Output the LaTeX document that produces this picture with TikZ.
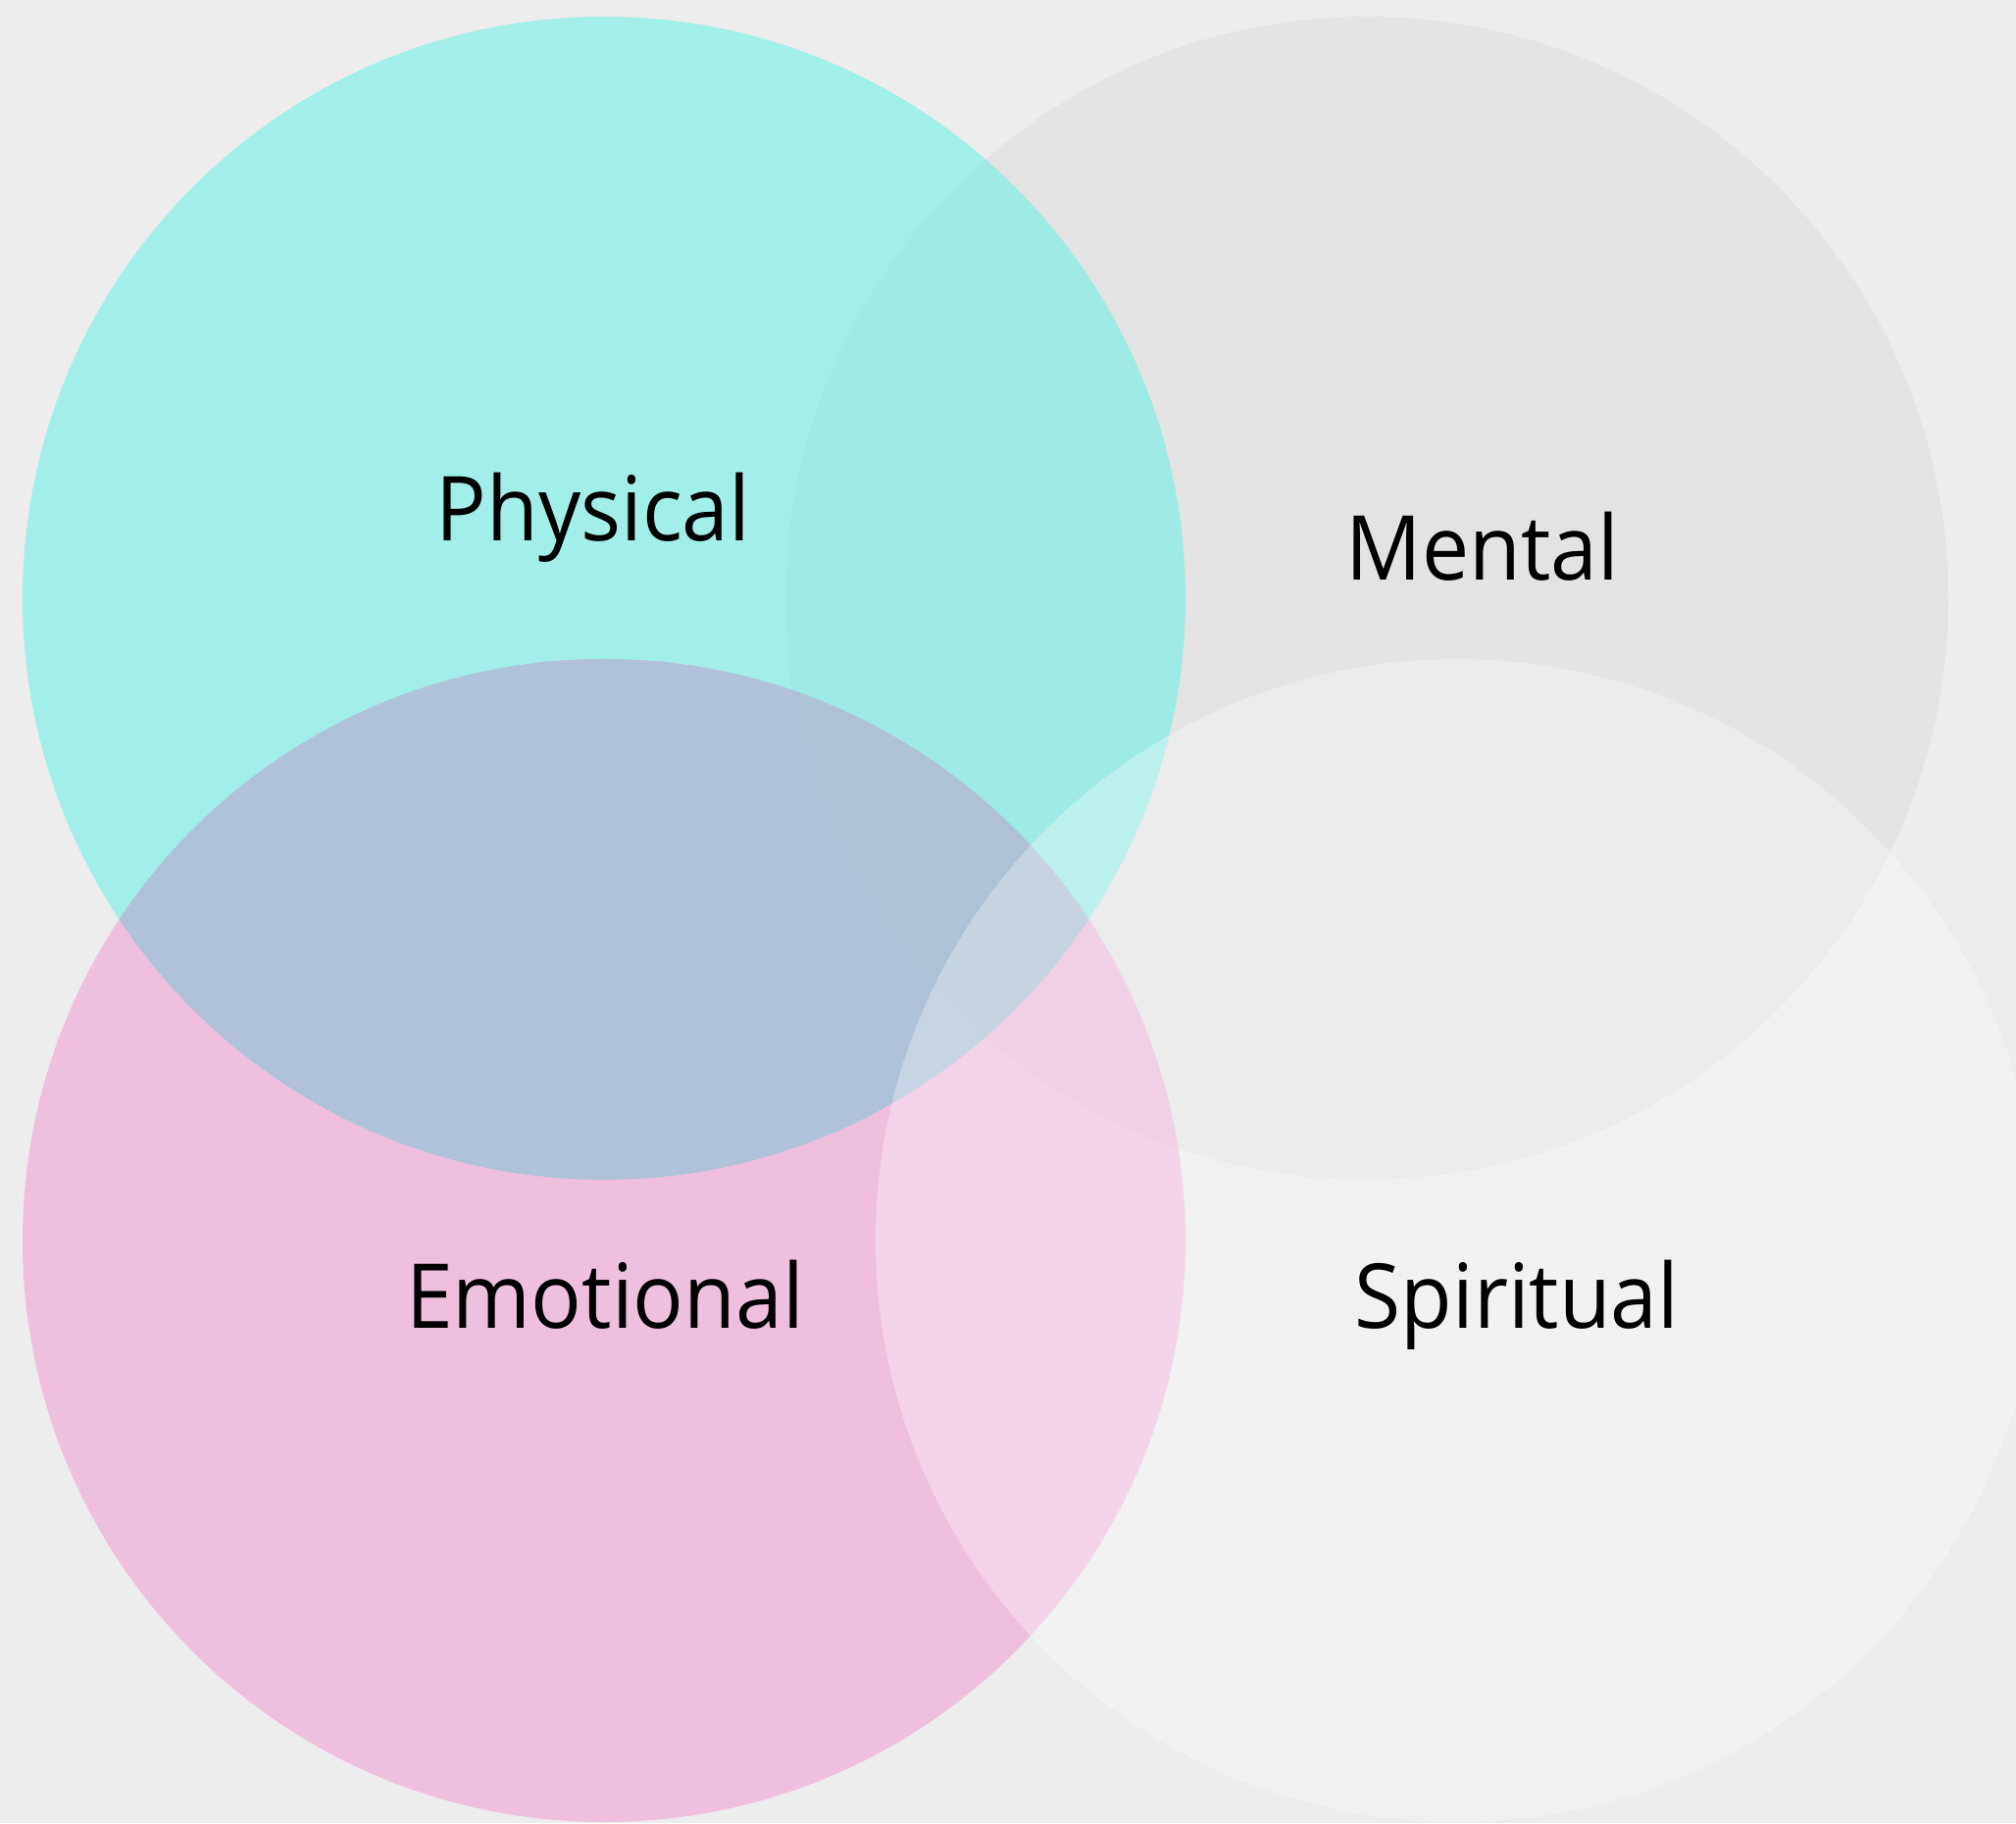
\documentclass[tikz,border=0pt]{standalone}
\usepackage{fontspec}
\setmainfont{Open Sans}[FakeStretch=0.94]
\usepackage{tikz}

\definecolor{paper}{RGB}{236,236,236}
\definecolor{mentalgray}{RGB}{227,227,227}
\definecolor{physcyan}{RGB}{103,241,229}
\definecolor{emopink}{RGB}{241,156,211}
\definecolor{bothtint}{RGB}{146,197,212}

\tikzset{
  area/.style={fill opacity=0.55},
  word/.style={anchor=base, font=\fontsize{26}{31}\selectfont, text=black}
}

\begin{document}
\begin{tikzpicture}
                \fill[paper] (0,0) rectangle (20.56,18.59);
                \useasboundingbox (0,0) rectangle (20.56,18.59);
                \coordinate (P) at (6.16,12.49);
                \coordinate (M) at (13.94,12.49);
                \coordinate (E) at (6.16,5.94);
                \coordinate (S) at (14.86,5.94);
                \fill[mentalgray] (M) circle (5.93);
                \fill[area,physcyan] (P) circle (5.93);
                \fill[area,emopink] (E) circle (5.93);
                \begin{scope}
                    \clip (P) circle (5.93);
                    \fill[bothtint,fill opacity=0.5] (E) circle (5.93);
                \end{scope}
                \fill[white,fill opacity=0.3] (S) circle (5.93);
                \node[word] (physical) at (6.05,13.07) {Physical};
                \node[word] (mental) at (15.12,12.67) {Mental};
                \node[word] (emotional) at (6.17,5.04) {Emotional};
                \node[word] (spiritual) at (15.47,5.04) {Spiritual};
            \end{tikzpicture}
\end{document}
